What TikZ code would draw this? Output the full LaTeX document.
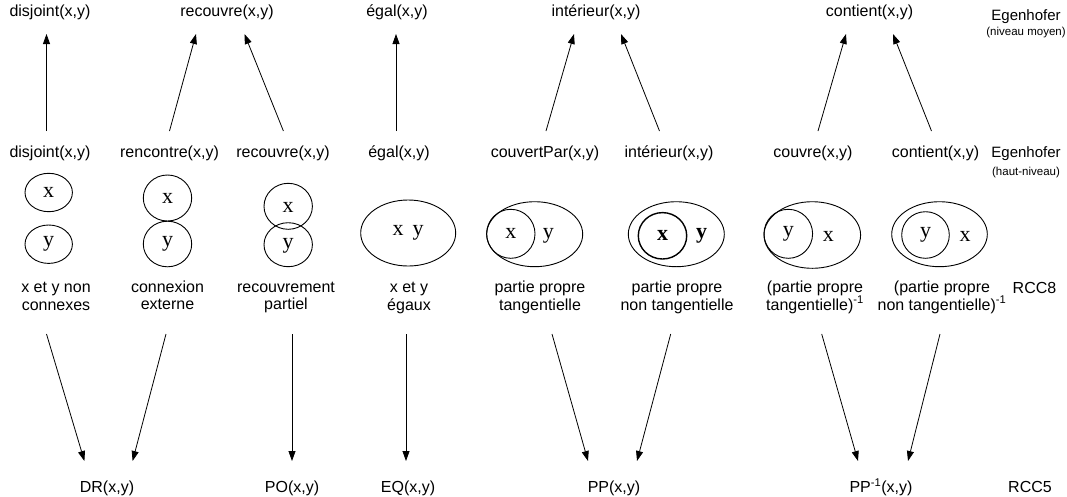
\documentclass[tikz,border=0pt]{standalone}
\usepackage{fontspec}
\setmainfont{Liberation Sans}
\newfontfamily\letterfont{Liberation Serif}
\usetikzlibrary{arrows.meta,shapes.geometric}
\begin{document}
\begin{tikzpicture}[x=1pt,y=-1pt,
  lbl/.style={anchor=base, inner sep=0pt, font=\fontsize{16}{17.5}\selectfont},
  relname/.style={lbl, align=center},
  side/.style={anchor=base, inner sep=0pt, font=\fontsize{15}{16}\selectfont},
  sub/.style={anchor=base, inner sep=0pt, font=\fontsize{11.5}{12}\selectfont},
  region/.style={draw, ellipse, line width=0.9pt, inner sep=0pt,
    font=\letterfont\fontsize{22}{23}\selectfont},
  letter/.style={inner sep=0pt, font=\letterfont\fontsize{22}{23}\selectfont},
  arr/.style={line width=0.8pt, -{Triangle[length=10pt,width=7pt]}},
]
\useasboundingbox (0,0) rectangle (1067,496);

% Egenhofer, intermediate level
\node[lbl] (t1) at (50,16.8)    {disjoint(x,y)};
\node[lbl] (t2) at (227,16.8)   {recouvre(x,y)};
\node[lbl] (t3) at (397,16.8)   {égal(x,y)};
\node[lbl] (t4) at (596,16.8)   {intérieur(x,y)};
\node[lbl] (t5) at (869.5,16.8) {contient(x,y)};
\node[side] (e1) at (1026,20.5) {Egenhofer};
\node[sub]  (e1s) at (1026,35)  {(niveau moyen)};

% Egenhofer, high level
\node[lbl] (m1) at (50,157)    {disjoint(x,y)};
\node[lbl] (m2) at (169.5,157) {rencontre(x,y)};
\node[lbl] (m3) at (283,157)   {recouvre(x,y)};
\node[lbl] (m4) at (399,157)   {égal(x,y)};
\node[lbl] (m5) at (545,157)   {couvertPar(x,y)};
\node[lbl] (m6) at (669,157)   {intérieur(x,y)};
\node[lbl] (m7) at (813,157)   {couvre(x,y)};
\node[lbl] (m8) at (935.5,157) {contient(x,y)};
\node[side] (e2) at (1026,157.4) {Egenhofer};
\node[sub]  (e2s) at (1026,175)  {(haut-niveau)};

% region diagrams
\node[region, minimum width=47.4pt, minimum height=38.4pt] (x1) at (48.7,192.5) {x};
\node[region, minimum width=47.4pt, minimum height=38.4pt] (y1) at (48.7,244.2) {y};

\node[region, minimum width=48.4pt, minimum height=46pt]   (x2) at (167.5,198) {x};
\node[region, minimum width=48.4pt, minimum height=45.6pt] (y2) at (167.5,244) {y};

\node[region, minimum width=48.4pt, minimum height=46pt] (x3) at (288.2,206.3) {};
\node[region, minimum width=48.4pt, minimum height=44pt] (y3) at (288.2,244.7) {};
\node[letter] (x3l) at (288.2,207) {x};
\node[letter] (y3l) at (288.2,246) {y};

\node[region, minimum width=95pt, minimum height=66pt] (xy4) at (408.2,233) {x\hspace{9pt}y};

\node[region, minimum width=96pt, minimum height=65pt]   (y5) at (534.7,234.2) {};
\node[region, minimum width=48.4pt, minimum height=49pt] (x5) at (510.8,233.8) {x};
\node[letter] (y5l) at (548.3,236) {y};

\node[region, minimum width=96pt, minimum height=65pt] (y6) at (676.3,234.2) {};
\node[region, line width=1.4pt, minimum width=48.4pt, minimum height=46.4pt]
  (x6) at (662.5,235.8) {\bfseries x};
\node[letter] (y6l) at (701.7,236) {\bfseries y};

\node[region, minimum width=96.6pt, minimum height=66.6pt] (x7) at (812.3,235) {};
\node[region, minimum width=48.6pt, minimum height=49pt]   (y7) at (788.3,233.8) {y};
\node[letter] (x7l) at (828.3,236) {x};

\node[region, minimum width=95.6pt, minimum height=65pt]   (x8) at (939.5,234.2) {};
\node[region, minimum width=47.6pt, minimum height=46.6pt] (y8) at (925.5,235) {y};
\node[letter] (x8l) at (965,236) {x};

% RCC8 names (anchored on the baseline of their second line)
\node[relname] (c1) at (56,310)      {x et y non\\connexes};
\node[relname] (c2) at (167.5,309.5) {connexion\\externe};
\node[relname] (c3) at (286,309.5)   {recouvrement\\partiel};
\node[relname] (c4) at (409,310)     {x et y\\égaux};
\node[relname] (c5) at (540,310)     {partie propre\\tangentielle};
\node[relname] (c6) at (677,310)     {partie propre\\non tangentielle};
\node[relname] (c7) at (815,310)     {(partie propre\\tangentielle)\textsuperscript{-1}};
\node[relname] (c8) at (942,310)     {(partie propre\\non tangentielle)\textsuperscript{-1}};
\node[lbl] (r8) at (1034.5,293)  {RCC8};

% RCC5
\node[lbl] (b1) at (107,492.5) {DR(x,y)};
\node[lbl] (b2) at (292,492.5) {PO(x,y)};
\node[lbl] (b3) at (408,492.5) {EQ(x,y)};
\node[lbl] (b4) at (614,492.5) {PP(x,y)};
\node[lbl] (b5) at (881,492.5) {PP\textsuperscript{-1}(x,y)};
\node[lbl] (r5) at (1030,492.5) {RCC5};

% high level -> intermediate level
\draw[arr] ([shift={(-3.5,-26)}]m1.base) -- ([shift={(-3.5,17.2)}]t1.base);
\draw[arr] ([shift={(0,-26)}]m2.base)    -- ([shift={(-31,17.2)}]t2.base);
\draw[arr] ([shift={(0.4,-26)}]m3.base)  -- ([shift={(17.5,17.2)}]t2.base);
\draw[arr] ([shift={(-3,-26)}]m4.base)   -- ([shift={(-1,17.2)}]t3.base);
\draw[arr] ([shift={(1,-26)}]m5.base)    -- ([shift={(-22,17.2)}]t4.base);
\draw[arr] ([shift={(-9.5,-26)}]m6.base) -- ([shift={(25,17.2)}]t4.base);
\draw[arr] ([shift={(5,-26)}]m7.base)    -- ([shift={(-23.5,17.2)}]t5.base);
\draw[arr] ([shift={(-4,-26)}]m8.base)   -- ([shift={(23.5,17.2)}]t5.base);

% RCC8 -> RCC5
\draw[arr] ([shift={(-9.5,24)}]c1.base)   -- ([shift={(-22.6,-31.5)}]b1.base);
\draw[arr] ([shift={(-1.5,24.5)}]c2.base) -- ([shift={(25.6,-31.5)}]b1.base);
\draw[arr] ([shift={(6,24.5)}]c3.base)    -- ([shift={(0,-31.5)}]b2.base);
\draw[arr] ([shift={(-3,24)}]c4.base)     -- ([shift={(-2,-31.5)}]b3.base);
\draw[arr] ([shift={(12,24)}]c5.base)     -- ([shift={(-26,-31.5)}]b4.base);
\draw[arr] ([shift={(-6.3,24)}]c6.base)   -- ([shift={(23,-31.5)}]b4.base);
\draw[arr] ([shift={(6.7,24)}]c7.base)    -- ([shift={(-23,-31.5)}]b5.base);
\draw[arr] ([shift={(-2,24)}]c8.base)     -- ([shift={(27,-31.5)}]b5.base);
\end{tikzpicture}
\end{document}
